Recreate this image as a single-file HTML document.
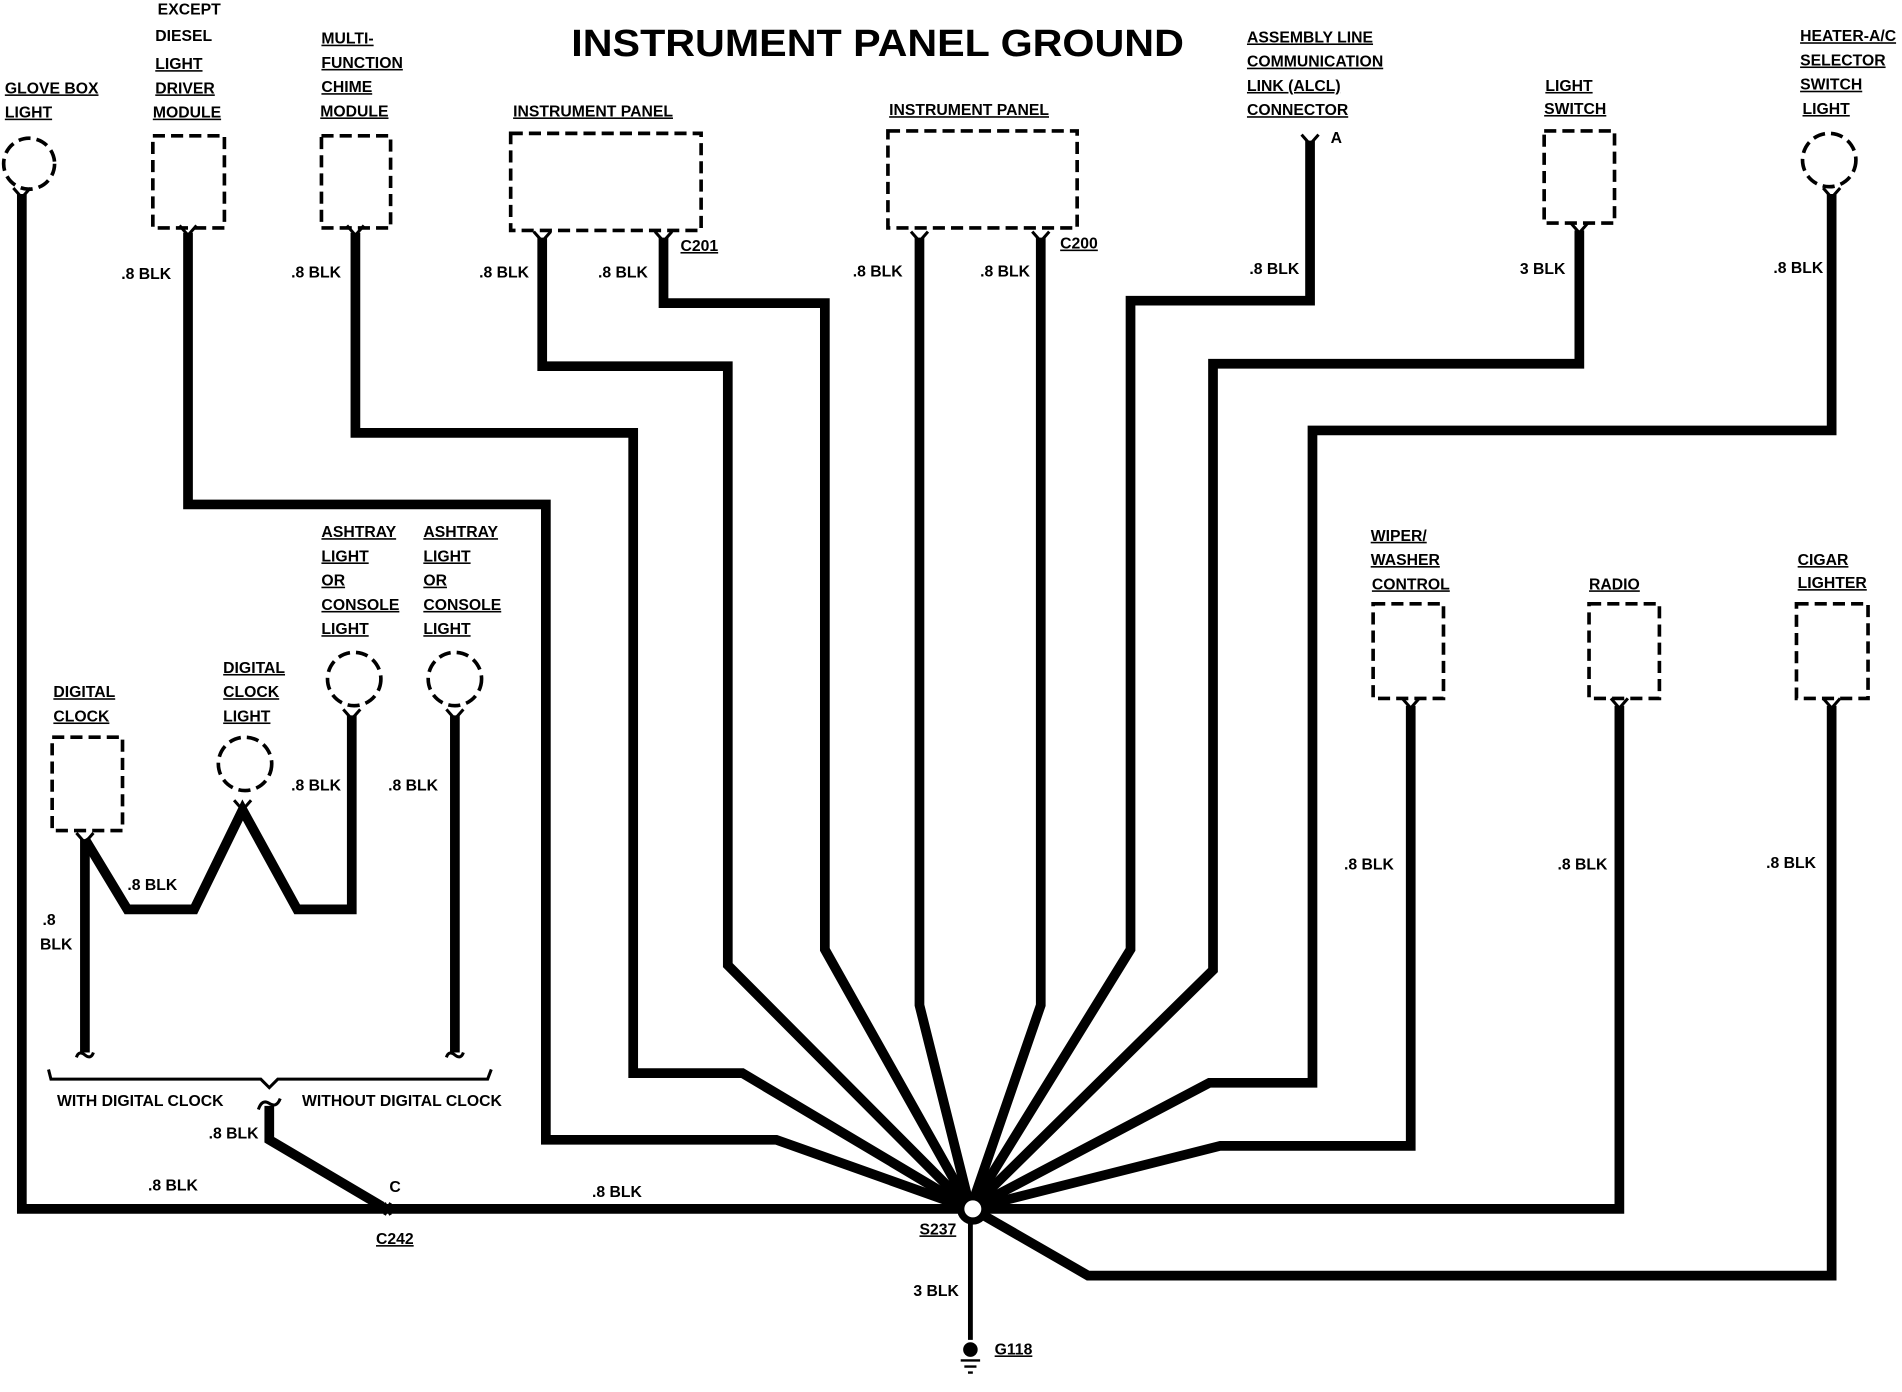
<!DOCTYPE html>
<html><head><meta charset="utf-8"><style>
html,body{margin:0;padding:0;background:#fff;}
svg{display:block}
text{font-family:"Liberation Sans",sans-serif;font-weight:bold;font-size:13px;fill:#000;}
.u{text-decoration:underline;}
</style></head><body>
<svg width="1902" height="1392" viewBox="0 0 1568 1148" preserveAspectRatio="none" xmlns="http://www.w3.org/2000/svg">
<g fill="none" stroke="#000" stroke-width="8" stroke-linejoin="miter">
<!-- glove box -->
<path d="M18,160 V997 H800"/>
<!-- diesel -->
<path d="M155,192 V416 H450 V940 H640 L800,997"/>
<!-- chime -->
<path d="M293,192 V357 H522 V885 H612 L800,997"/>
<!-- C201 -->
<path d="M447,196 V302 H600 V796 L800,997"/>
<path d="M547,196 V250 H680 V783 L800,997"/>
<!-- C200 -->
<path d="M758,196 V829 L800,997"/>
<path d="M858,196 V829 L800,997"/>
<!-- ALCL -->
<path d="M1080,116 V248 H932 V783 L800,997"/>
<!-- light switch -->
<path d="M1302,190 V300 H1000 V800 L800,997"/>
<!-- heater -->
<path d="M1510,160 V355 H1082 V893 H997 L800,997"/>
<!-- wiper -->
<path d="M1163,582 V945 H1006 L800,997"/>
<!-- radio -->
<path d="M1335,582 V997 H800"/>
<!-- cigar -->
<path d="M1510,582 V1052 H897 L812,1003"/>
<!-- ground -->
<path d="M800,1003 V1105" stroke-width="4"/>
<!-- digital clock -->
<path d="M70,692 V868"/>
<path d="M70,692 L105,750 H160 L200,668 L245,750 H290 V590"/>
<path d="M375,590 V868"/>
<path d="M222,912 V940 L315,995"/>
</g>
<!-- bracket -->
<path d="M40,882 L42,890 H215 L222,897 L229,890 H402 L405,882" fill="none" stroke="#000" stroke-width="2.5"/>
<!-- wire end forks -->
<g fill="none" stroke="#000" stroke-width="2.5">
<path d="M63,872 Q65,866 70,870 Q75,874 77,868"/>
<path d="M368,872 Q370,866 375,870 Q380,874 382,868"/>
<path d="M213,915 Q216,906 222,910 Q228,914 231,906"/>
<path d="M317,1002 Q320,997 317,992 M322,1002 Q319,997 322,992" />
</g>
<g fill="none" stroke="#000" stroke-width="2.5">
<path d="M148,186 L155,194 L162,186"/><path d="M286,186 L293,194 L300,186"/>
<path d="M440,191 L447,199 L454,191"/><path d="M540,191 L547,199 L554,191"/>
<path d="M751,191 L758,199 L765,191"/><path d="M851,191 L858,199 L865,191"/>
<path d="M1073,111 L1080,119 L1087,111"/><path d="M1295,184 L1302,192 L1309,184"/>
<path d="M1156,576 L1163,584 L1170,576"/><path d="M1328,576 L1335,584 L1342,576"/>
<path d="M1503,576 L1510,584 L1517,576"/><path d="M11,155 L18,163 L25,155"/>
<path d="M1503,155 L1510,163 L1517,155"/><path d="M63,687 L70,695 L77,687"/>
<path d="M193,660 L200,668 L207,660"/><path d="M283,585 L290,593 L297,585"/><path d="M368,585 L375,593 L382,585"/>
</g>
<!-- components dashed -->
<g fill="none" stroke="#000" stroke-width="3" stroke-dasharray="10,5">
<circle cx="24" cy="135" r="21"/>
<rect x="126" y="112" width="59" height="76"/>
<rect x="265" y="112" width="57" height="76"/>
<rect x="421" y="110" width="157" height="80"/>
<rect x="732" y="108" width="156" height="80"/>
<rect x="1273" y="108" width="58" height="76"/>
<circle cx="1508" cy="132" r="22"/>
<rect x="1132" y="498" width="58" height="78"/>
<rect x="1310" y="498" width="58" height="78"/>
<rect x="1481" y="498" width="59" height="78"/>
<rect x="43" y="608" width="58" height="77"/>
<circle cx="202" cy="630" r="22"/>
<circle cx="292" cy="560" r="22"/>
<circle cx="375" cy="560" r="22"/>
</g>
<!-- splice & ground -->
<circle cx="802" cy="997" r="10" fill="#fff" stroke="#000" stroke-width="6"/>
<ellipse cx="800" cy="1113" rx="6" ry="6" fill="#000"/>
<path d="M792,1122 H808 M795,1127 H805 M798,1132 H802" stroke="#000" stroke-width="2"/>
<!-- title -->
<text x="471" y="46" style="font-size:31px" textLength="505" lengthAdjust="spacingAndGlyphs">INSTRUMENT PANEL GROUND</text>
<g>
<text x="130" y="12">EXCEPT</text><text x="128" y="34">DIESEL</text>
<text class="u" x="128" y="57">LIGHT</text><text class="u" x="128" y="77">DRIVER</text><text class="u" x="126" y="97">MODULE</text>
<text class="u" x="4" y="77">GLOVE BOX</text><text class="u" x="4" y="97">LIGHT</text>
<text class="u" x="265" y="36">MULTI-</text><text class="u" x="265" y="56">FUNCTION</text><text class="u" x="265" y="76">CHIME</text><text class="u" x="264" y="96">MODULE</text>
<text class="u" x="423" y="96">INSTRUMENT PANEL</text><text class="u" x="733" y="95">INSTRUMENT PANEL</text>
<text class="u" x="1028" y="35">ASSEMBLY LINE</text><text class="u" x="1028" y="55">COMMUNICATION</text><text class="u" x="1028" y="75">LINK (ALCL)</text><text class="u" x="1028" y="95">CONNECTOR</text>
<text x="1097" y="118">A</text>
<text class="u" x="1274" y="75">LIGHT</text><text class="u" x="1273" y="94">SWITCH</text>
<text class="u" x="1484" y="34">HEATER-A/C</text><text class="u" x="1484" y="54">SELECTOR</text><text class="u" x="1484" y="74">SWITCH</text><text class="u" x="1486" y="94">LIGHT</text>
<text class="u" x="561" y="207">C201</text><text class="u" x="874" y="205">C200</text>
<text x="100" y="230">.8 BLK</text><text x="240" y="229">.8 BLK</text><text x="395" y="229">.8 BLK</text><text x="493" y="229">.8 BLK</text>
<text x="703" y="228">.8 BLK</text><text x="808" y="228">.8 BLK</text><text x="1030" y="226">.8 BLK</text><text x="1253" y="226">3 BLK</text><text x="1462" y="225">.8 BLK</text>
<text class="u" x="265" y="443">ASHTRAY</text><text class="u" x="265" y="463">LIGHT</text><text class="u" x="265" y="483">OR</text><text class="u" x="265" y="503">CONSOLE</text><text class="u" x="265" y="523">LIGHT</text>
<text class="u" x="349" y="443">ASHTRAY</text><text class="u" x="349" y="463">LIGHT</text><text class="u" x="349" y="483">OR</text><text class="u" x="349" y="503">CONSOLE</text><text class="u" x="349" y="523">LIGHT</text>
<text class="u" x="44" y="575">DIGITAL</text><text class="u" x="44" y="595">CLOCK</text>
<text class="u" x="184" y="555">DIGITAL</text><text class="u" x="184" y="575">CLOCK</text><text class="u" x="184" y="595">LIGHT</text>
<text x="240" y="652">.8 BLK</text><text x="320" y="652">.8 BLK</text><text x="105" y="734">.8 BLK</text>
<text x="35" y="763">.8</text><text x="33" y="783">BLK</text>
<text x="47" y="912">WITH DIGITAL CLOCK</text><text x="249" y="912">WITHOUT DIGITAL CLOCK</text>
<text x="172" y="939">.8 BLK</text><text x="122" y="982">.8 BLK</text><text x="321" y="983">C</text>
<text class="u" x="310" y="1026">C242</text><text x="488" y="987">.8 BLK</text>
<text class="u" x="758" y="1018">S237</text><text x="753" y="1069">3 BLK</text><text class="u" x="820" y="1117">G118</text>
<text class="u" x="1130" y="446">WIPER/</text><text class="u" x="1130" y="466">WASHER</text><text class="u" x="1131" y="486">CONTROL</text>
<text class="u" x="1310" y="486">RADIO</text>
<text class="u" x="1482" y="466">CIGAR</text><text class="u" x="1482" y="485">LIGHTER</text>
<text x="1108" y="717">.8 BLK</text><text x="1284" y="717">.8 BLK</text><text x="1456" y="716">.8 BLK</text>
</g>
</svg>
</body></html>
